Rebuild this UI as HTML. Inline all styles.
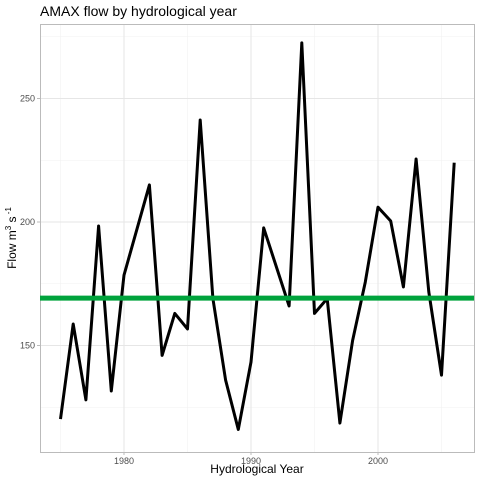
<!DOCTYPE html>
<html><head><meta charset="utf-8"><style>
body{margin:0;background:#fff;font-family:"Liberation Sans",sans-serif}
</style></head><body>
<svg width="480" height="480" xmlns="http://www.w3.org/2000/svg" font-family="Liberation Sans, sans-serif">
<g id="grid"></g>
<rect x="40.5" y="24.5" width="434" height="428" fill="none" stroke="#bbb" stroke-width="1"/>
<g id="axes"></g>
<path id="series" fill="none" stroke="#000" stroke-width="3" stroke-linejoin="round"/>
<line id="mean" stroke="#00a33c" stroke-width="5"/>
<text x="40" y="16" font-size="14" fill="#000">AMAX flow by hydrological year</text>
<text x="257" y="473" font-size="12" text-anchor="middle">Hydrological Year</text>
<text transform="translate(16,238) rotate(-90)" font-size="12" text-anchor="middle">Flow m<tspan font-size="8" dy="-5">3</tspan><tspan dy="5"> s</tspan><tspan font-size="8" dy="-5"> -1</tspan></text>
</svg>
<script>
const years=[1975,1976,1977,1978,1979,1980,1982,1983,1984,1985,1986,1987,1988,1989,1990,1991,1993,1994,1995,1996,1997,1998,1999,2000,2001,2002,2003,2004,2005,2006];
const flows=[120.2,158.7,128,198.4,131.6,178.5,215,146,163,156.7,241.3,169,136,116,143.3,197.6,166,272.5,163,169,118.6,152,175.7,206,200.4,173.7,225.5,171.7,138,224];
const meanFlow=169.2;
const xTicks=[1980,1990,2000];
const xMinor=[1975,1985,1995,2005];
const yTicks=[150,200,250];
const yMinor=[125,175,225,275];
const x=v=>124+(v-1980)*12.7;
const y=v=>222-(v-200)*2.47;
const ns="http://www.w3.org/2000/svg";
const grid=document.getElementById('grid'),axes=document.getElementById('axes');
function ln(p,x1,y1,x2,y2,c,w){const l=document.createElementNS(ns,'line');l.setAttribute('x1',x1);l.setAttribute('y1',y1);l.setAttribute('x2',x2);l.setAttribute('y2',y2);l.setAttribute('stroke',c);l.setAttribute('stroke-width',w);p.appendChild(l);return l;}
xMinor.forEach(v=>{const l=ln(grid,x(v),24,x(v),452,'#f2f2f2',0.6);

});
yMinor.forEach(v=>{const l=ln(grid,40,y(v),474,y(v),'#f2f2f2',0.6);

});
xTicks.forEach(v=>{const l=ln(grid,x(v),24,x(v),452,'#e6e6e6',1);


const t=ln(axes,x(v),452,x(v),455,'#bbb',1);


const tx=document.createElementNS(ns,'text');tx.setAttribute('x',x(v));tx.setAttribute('y',464);tx.setAttribute('font-size','9');tx.setAttribute('fill','#4d4d4d');tx.setAttribute('text-anchor','middle');tx.textContent=v;


axes.appendChild(tx);});
yTicks.forEach(v=>{const l=ln(grid,40,y(v),474,y(v),'#e6e6e6',1);


const t=ln(axes,37,y(v),40,y(v),'#bbb',1);


const tx=document.createElementNS(ns,'text');tx.setAttribute('x',35);tx.setAttribute('y',y(v)+3);tx.setAttribute('font-size','9');tx.setAttribute('fill','#4d4d4d');tx.setAttribute('text-anchor','end');tx.textContent=v;


axes.appendChild(tx);});
document.getElementById('series').setAttribute('d',years.map((v,i)=>(i?'L':'M')+x(v)+','+y(flows[i])).join(''));
const m=document.getElementById('mean');m.setAttribute('x1',40);m.setAttribute('x2',474);m.setAttribute('y1',y(meanFlow));m.setAttribute('y2',y(meanFlow));
</script>
</body></html>
